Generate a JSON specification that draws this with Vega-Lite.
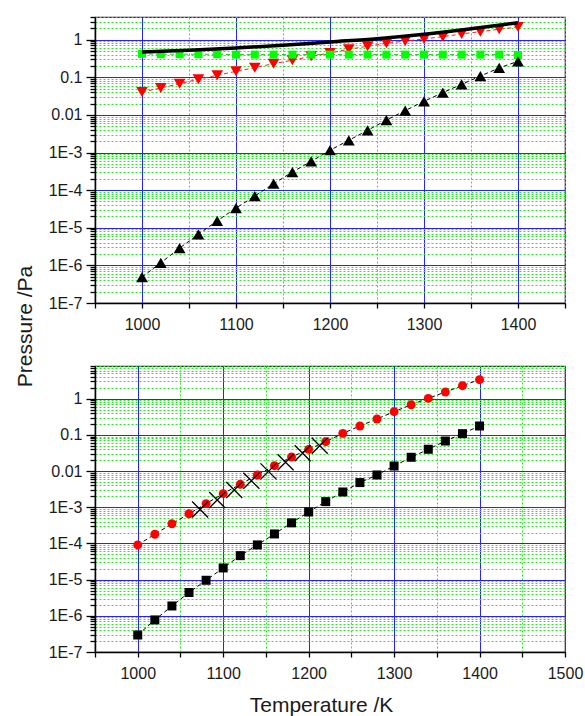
{
  "$schema": "https://vega.github.io/schema/vega-lite/v6.json",
  "background": "white",
  "padding": {"left": 13, "top": 15, "right": 0, "bottom": 12},
  "spacing": 63,
  "bounds": "flush",
  "config": {
    "view": {"stroke": "#222", "strokeWidth": 1.2},
    "axis": {
      "labelFont": "Liberation Sans", "labelFontSize": 16, "labelColor": "#1a1a1a",
      "titleFont": "Liberation Sans", "titleFontSize": 21, "titleFontWeight": "normal", "titleColor": "#1a1a1a",
      "domainColor": "#000", "domainWidth": 1.5, "tickColor": "#000", "tickWidth": 1.3, "gridWidth": 1, "gridOpacity": 1
    }
  },
  "datasets": {
    "top": [
      {"T": 1000, "P": 0.47, "s": "total"}, {"T": 1050, "P": 0.52, "s": "total"}, {"T": 1100, "P": 0.60, "s": "total"},
      {"T": 1150, "P": 0.71, "s": "total"}, {"T": 1200, "P": 0.87, "s": "total"}, {"T": 1250, "P": 1.06, "s": "total"},
      {"T": 1300, "P": 1.39, "s": "total"}, {"T": 1350, "P": 1.96, "s": "total"}, {"T": 1400, "P": 2.83, "s": "total"},
      {"T": 1000, "P": 0.42, "s": "green"}, {"T": 1020, "P": 0.41, "s": "green"}, {"T": 1040, "P": 0.41, "s": "green"},
      {"T": 1060, "P": 0.41, "s": "green"}, {"T": 1080, "P": 0.41, "s": "green"}, {"T": 1100, "P": 0.40, "s": "green"},
      {"T": 1120, "P": 0.40, "s": "green"}, {"T": 1140, "P": 0.40, "s": "green"}, {"T": 1160, "P": 0.40, "s": "green"},
      {"T": 1180, "P": 0.40, "s": "green"}, {"T": 1200, "P": 0.40, "s": "green"}, {"T": 1220, "P": 0.40, "s": "green"},
      {"T": 1240, "P": 0.40, "s": "green"}, {"T": 1260, "P": 0.40, "s": "green"}, {"T": 1280, "P": 0.40, "s": "green"},
      {"T": 1300, "P": 0.40, "s": "green"}, {"T": 1320, "P": 0.40, "s": "green"}, {"T": 1340, "P": 0.40, "s": "green"},
      {"T": 1360, "P": 0.40, "s": "green"}, {"T": 1380, "P": 0.40, "s": "green"}, {"T": 1400, "P": 0.39, "s": "green"},
      {"T": 1000, "P": 0.0406, "s": "red"}, {"T": 1020, "P": 0.0519, "s": "red"}, {"T": 1040, "P": 0.0676, "s": "red"},
      {"T": 1060, "P": 0.0883, "s": "red"}, {"T": 1080, "P": 0.113, "s": "red"}, {"T": 1100, "P": 0.144, "s": "red"},
      {"T": 1120, "P": 0.18, "s": "red"}, {"T": 1140, "P": 0.23, "s": "red"}, {"T": 1160, "P": 0.283, "s": "red"},
      {"T": 1180, "P": 0.362, "s": "red"}, {"T": 1200, "P": 0.443, "s": "red"}, {"T": 1220, "P": 0.556, "s": "red"},
      {"T": 1240, "P": 0.667, "s": "red"}, {"T": 1260, "P": 0.80, "s": "red"}, {"T": 1280, "P": 0.92, "s": "red"},
      {"T": 1300, "P": 1.04, "s": "red"}, {"T": 1320, "P": 1.2, "s": "red"}, {"T": 1340, "P": 1.42, "s": "red"},
      {"T": 1360, "P": 1.63, "s": "red"}, {"T": 1380, "P": 1.89, "s": "red"}, {"T": 1400, "P": 2.18, "s": "red"},
      {"T": 1000, "P": 4.89e-7, "s": "black"}, {"T": 1020, "P": 1.17e-6, "s": "black"}, {"T": 1040, "P": 2.88e-6, "s": "black"},
      {"T": 1060, "P": 6.67e-6, "s": "black"}, {"T": 1080, "P": 1.53e-5, "s": "black"}, {"T": 1100, "P": 3.34e-5, "s": "black"},
      {"T": 1120, "P": 6.97e-5, "s": "black"}, {"T": 1140, "P": 1.48e-4, "s": "black"}, {"T": 1160, "P": 3.03e-4, "s": "black"},
      {"T": 1180, "P": 5.83e-4, "s": "black"}, {"T": 1200, "P": 1.15e-3, "s": "black"}, {"T": 1220, "P": 2.11e-3, "s": "black"},
      {"T": 1240, "P": 3.89e-3, "s": "black"}, {"T": 1260, "P": 7.3e-3, "s": "black"}, {"T": 1280, "P": 0.013, "s": "black"},
      {"T": 1300, "P": 0.023, "s": "black"}, {"T": 1320, "P": 0.039, "s": "black"}, {"T": 1340, "P": 0.065, "s": "black"},
      {"T": 1360, "P": 0.108, "s": "black"}, {"T": 1380, "P": 0.177, "s": "black"}, {"T": 1400, "P": 0.266, "s": "black"}
    ],
    "bottom": [
      {"T": 1000, "P": 9.1e-5, "s": "circle"}, {"T": 1020, "P": 1.79e-4, "s": "circle"}, {"T": 1040, "P": 3.5e-4, "s": "circle"},
      {"T": 1060, "P": 6.6e-4, "s": "circle"}, {"T": 1080, "P": 1.26e-3, "s": "circle"}, {"T": 1100, "P": 2.38e-3, "s": "circle"},
      {"T": 1120, "P": 4.3e-3, "s": "circle"}, {"T": 1140, "P": 7.8e-3, "s": "circle"}, {"T": 1160, "P": 0.0141, "s": "circle"},
      {"T": 1180, "P": 0.0245, "s": "circle"}, {"T": 1200, "P": 0.0398, "s": "circle"}, {"T": 1220, "P": 0.0649, "s": "circle"},
      {"T": 1240, "P": 0.110, "s": "circle"}, {"T": 1260, "P": 0.176, "s": "circle"}, {"T": 1280, "P": 0.275, "s": "circle"},
      {"T": 1300, "P": 0.437, "s": "circle"}, {"T": 1320, "P": 0.68, "s": "circle"}, {"T": 1340, "P": 1.02, "s": "circle"},
      {"T": 1360, "P": 1.53, "s": "circle"}, {"T": 1380, "P": 2.29, "s": "circle"}, {"T": 1400, "P": 3.35, "s": "circle"},
      {"T": 1000, "P": 2.95e-7, "s": "square"}, {"T": 1020, "P": 7.7e-7, "s": "square"}, {"T": 1040, "P": 1.87e-6, "s": "square"},
      {"T": 1060, "P": 4.4e-6, "s": "square"}, {"T": 1080, "P": 9.6e-6, "s": "square"}, {"T": 1100, "P": 2.1e-5, "s": "square"},
      {"T": 1120, "P": 4.6e-5, "s": "square"}, {"T": 1140, "P": 9.1e-5, "s": "square"}, {"T": 1160, "P": 1.83e-4, "s": "square"},
      {"T": 1180, "P": 3.7e-4, "s": "square"}, {"T": 1200, "P": 7.4e-4, "s": "square"}, {"T": 1220, "P": 1.43e-3, "s": "square"},
      {"T": 1240, "P": 2.64e-3, "s": "square"}, {"T": 1260, "P": 4.8e-3, "s": "square"}, {"T": 1280, "P": 7.8e-3, "s": "square"},
      {"T": 1300, "P": 0.0138, "s": "square"}, {"T": 1320, "P": 0.024, "s": "square"}, {"T": 1340, "P": 0.040, "s": "square"},
      {"T": 1360, "P": 0.0676, "s": "square"}, {"T": 1380, "P": 0.108, "s": "square"}, {"T": 1400, "P": 0.176, "s": "square"},
      {"T": 1073, "P": 8.7e-4, "s": "cross"}, {"T": 1093, "P": 1.58e-3, "s": "cross"}, {"T": 1113, "P": 3.0e-3, "s": "cross"},
      {"T": 1133, "P": 5.4e-3, "s": "cross"}, {"T": 1153, "P": 9.8e-3, "s": "cross"}, {"T": 1173, "P": 0.0175, "s": "cross"},
      {"T": 1193, "P": 0.031, "s": "cross"}, {"T": 1213, "P": 0.050, "s": "cross"}
    ]
  },
  "vconcat": [
    {
      "width": 470, "height": 286,
      "data": {"name": "top"},
      "encoding": {
        "x": {"field": "T", "type": "quantitative",
          "scale": {"domain": [950, 1450], "nice": false, "zero": false},
          "axis": {"title": null, "values": [950,1000,1050,1100,1150,1200,1250,1300,1350,1400,1450],
            "labelExpr": "datum.value % 100 === 0 ? toString(datum.value) : ''",
            "labelFlush": false,
            "tickSize": 5, "labelPadding": 8,
            "gridColor": {"condition": {"test": "datum.value % 100 === 0", "value": "#2424ff"}, "value": "#22ee22"},
            "gridDash": {"condition": {"test": "datum.value % 100 === 0", "value": []}, "value": [2, 2]}}},
        "y": {"field": "P", "type": "quantitative",
          "scale": {"type": "log", "domain": [1e-7, 4], "nice": false},
          "axis": {"title": "Pressure /Pa", "titleX": -64, "titleY": 309, "titleBaseline": "alphabetic", "titleAngle": 270,
            "values": [1e-7,2e-7,3e-7,4e-7,5e-7,6e-7,7e-7,8e-7,9e-7,1e-6,2e-6,3e-6,4e-6,5e-6,6e-6,7e-6,8e-6,9e-6,1e-5,2e-5,3e-5,4e-5,5e-5,6e-5,7e-5,8e-5,9e-5,1e-4,2e-4,3e-4,4e-4,5e-4,6e-4,7e-4,8e-4,9e-4,1e-3,2e-3,3e-3,4e-3,5e-3,6e-3,7e-3,8e-3,9e-3,0.01,0.02,0.03,0.04,0.05,0.06,0.07,0.08,0.09,0.1,0.2,0.3,0.4,0.5,0.6,0.7,0.8,0.9,1,2,3,4],
            "labelExpr": "abs(log(datum.value)/LN10 - round(log(datum.value)/LN10)) > 0.001 ? '' : (datum.value >= 0.01 ? toString(datum.value) : '1E' + round(log(datum.value)/LN10))",
            "labelPadding": 4,
            "tickSize": {"condition": {"test": "abs(log(datum.value)/LN10 - round(log(datum.value)/LN10)) < 0.001", "value": 9}, "value": 5},
            "gridColor": {"condition": {"test": "abs(log(datum.value)/LN10 - round(log(datum.value)/LN10)) < 0.001", "value": "#2424ff"}, "value": "#22ee22"},
            "gridDash": {"condition": {"test": "abs(log(datum.value)/LN10 - round(log(datum.value)/LN10)) < 0.001", "value": []}, "value": [2, 2]}}}
      },
      "layer": [
        {"transform": [{"filter": "datum.s === 'red'"}], "mark": {"type": "line", "color": "#ff2020", "strokeWidth": 1, "strokeDash": [4, 3]}},
        {"transform": [{"filter": "datum.s === 'red'"}], "mark": {"type": "point", "shape": "triangle-down", "filled": true, "size": 135, "color": "#ff0000", "opacity": 1}},
        {"transform": [{"filter": "datum.s === 'green'"}], "mark": {"type": "line", "color": "#00dd00", "strokeWidth": 1, "strokeDash": [4, 3]}},
        {"transform": [{"filter": "datum.s === 'green'"}], "mark": {"type": "point", "shape": "square", "filled": true, "size": 64, "color": "#00ff00", "opacity": 1}},
        {"transform": [{"filter": "datum.s === 'black'"}], "mark": {"type": "line", "color": "#000", "strokeWidth": 1, "strokeDash": [4, 3]}},
        {"transform": [{"filter": "datum.s === 'black'"}], "mark": {"type": "point", "shape": "triangle-up", "filled": true, "size": 140, "color": "#000", "opacity": 1}},
        {"transform": [{"filter": "datum.s === 'total'"}], "mark": {"type": "line", "color": "#000", "strokeWidth": 3.5, "interpolate": "monotone"}}
      ]
    },
    {
      "width": 470, "height": 286,
      "data": {"name": "bottom"},
      "encoding": {
        "x": {"field": "T", "type": "quantitative",
          "scale": {"domain": [950, 1500], "nice": false, "zero": false},
          "axis": {"title": "Temperature /K", "titleX": 226, "titleY": 59, "titleBaseline": "alphabetic",
            "values": [950,1000,1050,1100,1150,1200,1250,1300,1350,1400,1450,1500],
            "labelExpr": "datum.value % 100 === 0 ? toString(datum.value) : ''",
            "labelFlush": false,
            "tickSize": 5, "labelPadding": 8,
            "gridColor": {"condition": {"test": "datum.value % 100 === 0", "value": "#2424ff"}, "value": "#22ee22"},
            "gridDash": {"condition": {"test": "datum.value % 100 === 0", "value": []}, "value": [2, 2]}}},
        "y": {"field": "P", "type": "quantitative",
          "scale": {"type": "log", "domain": [1e-7, 8], "nice": false},
          "axis": {"title": null,
            "values": [1e-7,2e-7,3e-7,4e-7,5e-7,6e-7,7e-7,8e-7,9e-7,1e-6,2e-6,3e-6,4e-6,5e-6,6e-6,7e-6,8e-6,9e-6,1e-5,2e-5,3e-5,4e-5,5e-5,6e-5,7e-5,8e-5,9e-5,1e-4,2e-4,3e-4,4e-4,5e-4,6e-4,7e-4,8e-4,9e-4,1e-3,2e-3,3e-3,4e-3,5e-3,6e-3,7e-3,8e-3,9e-3,0.01,0.02,0.03,0.04,0.05,0.06,0.07,0.08,0.09,0.1,0.2,0.3,0.4,0.5,0.6,0.7,0.8,0.9,1,2,3,4,5,6,7,8],
            "labelExpr": "abs(log(datum.value)/LN10 - round(log(datum.value)/LN10)) > 0.001 ? '' : (datum.value >= 0.01 ? toString(datum.value) : '1E' + round(log(datum.value)/LN10))",
            "labelPadding": 4,
            "tickSize": {"condition": {"test": "abs(log(datum.value)/LN10 - round(log(datum.value)/LN10)) < 0.001", "value": 9}, "value": 5},
            "gridColor": {"condition": {"test": "abs(log(datum.value)/LN10 - round(log(datum.value)/LN10)) < 0.001", "value": "#2424ff"}, "value": "#22ee22"},
            "gridDash": {"condition": {"test": "abs(log(datum.value)/LN10 - round(log(datum.value)/LN10)) < 0.001", "value": []}, "value": [2, 2]}}}
      },
      "layer": [
        {"transform": [{"filter": "datum.s === 'circle'"}], "mark": {"type": "line", "color": "#000", "strokeWidth": 1, "strokeDash": [4, 3]}},
        {"transform": [{"filter": "datum.s === 'circle'"}], "mark": {"type": "point", "shape": "circle", "filled": true, "size": 80, "color": "#ff0000", "opacity": 1}},
        {"transform": [{"filter": "datum.s === 'square'"}], "mark": {"type": "line", "color": "#000", "strokeWidth": 1, "strokeDash": [4, 3]}},
        {"transform": [{"filter": "datum.s === 'square'"}], "mark": {"type": "point", "shape": "square", "filled": true, "size": 81, "color": "#000", "opacity": 1}},
        {"transform": [{"filter": "datum.s === 'cross'"}], "mark": {"type": "point", "shape": "M-1,-1L1,1M1,-1L-1,1", "filled": false, "size": 256, "color": "#000", "strokeWidth": 1.3, "opacity": 1}}
      ]
    }
  ]
}
